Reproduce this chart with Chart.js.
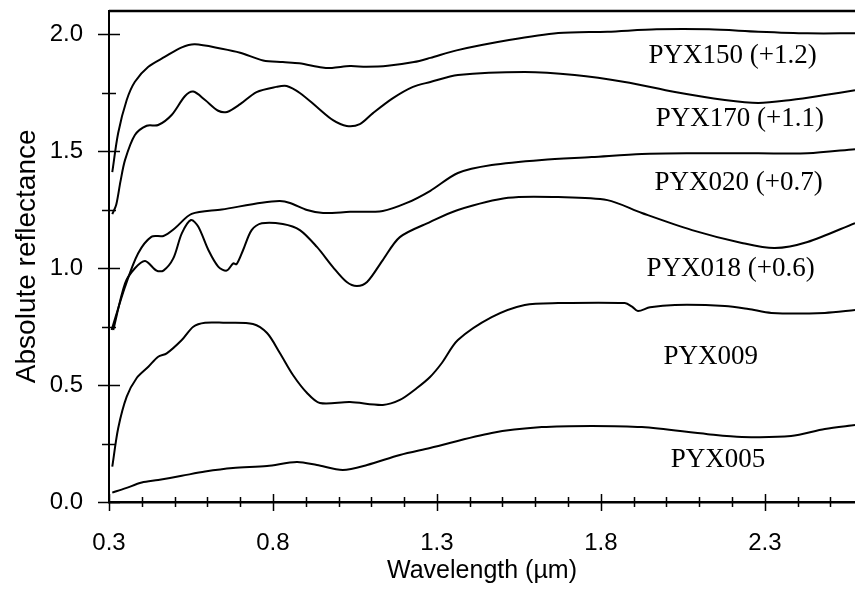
<!DOCTYPE html>
<html>
<head>
<meta charset="utf-8">
<title>Pyroxene reflectance spectra</title>
<script src="https://cdn.jsdelivr.net/npm/chart.js@4"></script>
<style>
  html, body { margin: 0; padding: 0; background: #fff; }
  #chart-wrap { width: 855px; height: 589px; }
</style>
</head>
<body>
<div id="chart-wrap"><canvas id="spectra-chart" width="855" height="589"></canvas></div>
<script>
// Spectra (wavelength in µm, absolute reflectance incl. offset)
const pyx150Wl = [0.31, 0.328, 0.354, 0.379, 0.42, 0.471, 0.522, 0.562, 0.644, 0.70, 0.77, 0.83, 0.88, 0.95, 0.98, 1.035, 1.085, 1.15, 1.23, 1.28, 1.36, 1.52, 1.67, 1.82, 1.97, 2.13, 2.28, 2.43, 2.575];
const pyx150R = [1.41, 1.577, 1.718, 1.796, 1.86, 1.903, 1.943, 1.956, 1.937, 1.92, 1.887, 1.88, 1.875, 1.857, 1.855, 1.863, 1.86, 1.864, 1.88, 1.898, 1.93, 1.974, 2.004, 2.01, 2.02, 2.02, 2.01, 2.003, 2.003];

const pyx170Wl = [0.31, 0.322, 0.335, 0.349, 0.379, 0.415, 0.45, 0.491, 0.532, 0.557, 0.593, 0.633, 0.66, 0.70, 0.75, 0.81, 0.842, 0.882, 0.934, 0.983, 1.025, 1.065, 1.105, 1.166, 1.227, 1.28, 1.364, 1.568, 1.72, 1.873, 2.026, 2.178, 2.28, 2.38, 2.483, 2.575];
const pyx170R = [1.23, 1.27, 1.37, 1.462, 1.568, 1.608, 1.611, 1.654, 1.735, 1.754, 1.718, 1.672, 1.667, 1.70, 1.752, 1.774, 1.778, 1.748, 1.688, 1.632, 1.607, 1.615, 1.662, 1.726, 1.774, 1.795, 1.825, 1.838, 1.825, 1.795, 1.752, 1.718, 1.705, 1.718, 1.739, 1.76];

const pyx020Wl = [0.308, 0.349, 0.389, 0.43, 0.466, 0.501, 0.552, 0.644, 0.766, 0.821, 0.852, 0.904, 0.953, 1.035, 1.135, 1.208, 1.28, 1.364, 1.467, 1.62, 1.772, 1.925, 2.078, 2.28, 2.43, 2.575];
const pyx020R = [0.735, 0.92, 1.063, 1.134, 1.137, 1.17, 1.231, 1.25, 1.279, 1.286, 1.278, 1.248, 1.235, 1.24, 1.244, 1.278, 1.33, 1.406, 1.44, 1.462, 1.474, 1.487, 1.49, 1.49, 1.49, 1.508];

const pyx018Wl = [0.313, 0.349, 0.379, 0.41, 0.445, 0.466, 0.496, 0.522, 0.55, 0.572, 0.603, 0.633, 0.659, 0.679, 0.689, 0.709, 0.735, 0.766, 0.83, 0.882, 0.934, 0.983, 1.025, 1.056, 1.087, 1.135, 1.187, 1.28, 1.364, 1.517, 1.67, 1.82, 1.925, 2.078, 2.23, 2.33, 2.43, 2.575];
const pyx018R = [0.735, 0.935, 0.999, 1.03, 0.989, 0.989, 1.041, 1.148, 1.205, 1.177, 1.077, 1.006, 0.989, 1.02, 1.016, 1.077, 1.162, 1.191, 1.188, 1.162, 1.09, 1.004, 0.94, 0.923, 0.94, 1.034, 1.132, 1.197, 1.248, 1.30, 1.303, 1.29, 1.235, 1.162, 1.107, 1.085, 1.111, 1.192];

const pyx009Wl = [0.31, 0.328, 0.354, 0.384, 0.42, 0.45, 0.476, 0.522, 0.557, 0.593, 0.648, 0.739, 0.782, 0.821, 0.861, 0.904, 0.943, 1.035, 1.135, 1.187, 1.239, 1.279, 1.315, 1.364, 1.467, 1.568, 1.67, 1.873, 1.895, 1.913, 1.95, 2.026, 2.178, 2.25, 2.32, 2.483, 2.575];
const pyx009R = [0.151, 0.315, 0.45, 0.529, 0.578, 0.621, 0.635, 0.692, 0.749, 0.766, 0.766, 0.761, 0.722, 0.637, 0.543, 0.466, 0.423, 0.427, 0.415, 0.436, 0.487, 0.534, 0.594, 0.692, 0.79, 0.842, 0.85, 0.85, 0.835, 0.816, 0.832, 0.842, 0.838, 0.825, 0.808, 0.808, 0.82];

const pyx005Wl = [0.31, 0.349, 0.4, 0.45, 0.522, 0.593, 0.678, 0.782, 0.873, 0.934, 1.013, 1.087, 1.187, 1.279, 1.467, 1.62, 1.772, 1.925, 2.126, 2.23, 2.38, 2.483, 2.575];
const pyx005R = [0.04, 0.058, 0.083, 0.094, 0.112, 0.13, 0.145, 0.154, 0.171, 0.158, 0.137, 0.158, 0.201, 0.231, 0.295, 0.32, 0.325, 0.32, 0.29, 0.278, 0.282, 0.312, 0.329];

// Curve labels and where they sit (data units)
const labelNames = ['PYX150 (+1.2)', 'PYX170 (+1.1)', 'PYX020 (+0.7)', 'PYX018 (+0.6)', 'PYX009', 'PYX005'];
const labelX = [2.202, 2.224, 2.22, 2.196, 2.135, 2.157];
const labelY = [1.906, 1.637, 1.365, 0.996, 0.62, 0.179];

// Axis ticks
const xMajorTicks = [0.3, 0.8, 1.3, 1.8, 2.3];
const xMinorTicks = [0.4, 0.5, 0.6, 0.7, 0.9, 1.0, 1.1, 1.2, 1.4, 1.5, 1.6, 1.7, 1.9, 2.0, 2.1, 2.2, 2.4, 2.5];
const yMajorTicks = [0, 0.5, 1.0, 1.5, 2.0];
const yMinorTicks = [0.25, 0.75, 1.25, 1.75];

const SANS = "'Liberation Sans', Arial, sans-serif";
const SERIF = "'Liberation Serif', 'Times New Roman', serif";

const toPoints = (wl, r) => wl.map((x, i) => ({ x, y: r[i] }));

const seriesList = [
  [pyx150Wl, pyx150R],
  [pyx170Wl, pyx170R],
  [pyx020Wl, pyx020R],
  [pyx018Wl, pyx018R],
  [pyx009Wl, pyx009R],
  [pyx005Wl, pyx005R]
];

/**
 * Tick marks crossing the axes, plus the frame line on top
 */
const axisDecor = {
  id: 'axisDecor',
  afterDraw(chart) {
    const { ctx, chartArea, scales } = chart;
    const xs = scales.x;
    const ys = scales.y;
    ctx.save();
    ctx.strokeStyle = '#000';
    ctx.lineWidth = 1.5;
    ctx.beginPath();
    xMajorTicks.forEach(v => {
      const px = Math.round(xs.getPixelForValue(v)) + 0.5;
      ctx.moveTo(px, chartArea.bottom - 8);
      ctx.lineTo(px, chartArea.bottom + 9);
    });
    xMinorTicks.forEach(v => {
      const px = Math.round(xs.getPixelForValue(v)) + 0.5;
      ctx.moveTo(px, chartArea.bottom - 5);
      ctx.lineTo(px, chartArea.bottom + 5);
    });
    yMajorTicks.forEach(v => {
      const py = Math.round(ys.getPixelForValue(v)) + 0.5;
      ctx.moveTo(chartArea.left - 11, py);
      ctx.lineTo(chartArea.left + 11, py);
    });
    yMinorTicks.forEach(v => {
      const py = Math.round(ys.getPixelForValue(v)) + 0.5;
      ctx.moveTo(chartArea.left - 7, py);
      ctx.lineTo(chartArea.left + 7, py);
    });
    ctx.stroke();

    // top frame line
    ctx.lineWidth = 2.5;
    ctx.beginPath();
    ctx.moveTo(chartArea.left, chartArea.top + 0.5);
    ctx.lineTo(chartArea.right, chartArea.top + 0.5);
    ctx.stroke();
    ctx.restore();
  }
};

/**
 * Sample names written next to each spectrum
 */
const curveLabels = {
  id: 'curveLabels',
  afterDatasetsDraw(chart) {
    const { ctx, scales } = chart;
    ctx.save();
    ctx.fillStyle = '#000';
    ctx.font = '27px ' + SERIF;
    ctx.textAlign = 'center';
    ctx.textBaseline = 'middle';
    labelNames.forEach((name, i) => {
      ctx.fillText(name, scales.x.getPixelForValue(labelX[i]), scales.y.getPixelForValue(labelY[i]));
    });
    ctx.restore();
  }
};

const ctx = document.getElementById('spectra-chart');
const chart = new Chart(ctx, {
  type: 'line',
  data: {
    datasets: seriesList.map(([wl, r], i) => ({
      label: labelNames[i],
      data: toPoints(wl, r),
      borderColor: '#000',
      borderWidth: 2,
      pointRadius: 0,
      fill: false,
      tension: 0.3
    }))
  },
  options: {
    responsive: false,
    animation: false,
    devicePixelRatio: 1,
    layout: { padding: { top: 10.6, left: 0, right: 0, bottom: 0 } },
    plugins: {
      legend: { display: false },
      tooltip: { enabled: false }
    },
    scales: {
      x: {
        type: 'linear',
        min: 0.3,
        max: 2.575,
        afterBuildTicks: scale => { scale.ticks = xMajorTicks.map(v => ({ value: v })); },
        afterFit: scale => {
          scale.height = 87;
          scale.paddingLeft = 0;
          scale.paddingRight = 0;
        },
        grid: { display: false, drawTicks: false },
        border: { display: true, color: '#000', width: 2.5 },
        ticks: {
          color: '#000',
          font: { family: SANS, size: 24 },
          padding: 27,
          maxRotation: 0,
          autoSkip: false,
          callback: v => v.toFixed(1)
        },
        title: {
          display: true,
          text: 'Wavelength (µm)',
          color: '#000',
          font: { family: SANS, size: 25 },
          padding: { top: 0, bottom: 3 }
        }
      },
      y: {
        type: 'linear',
        min: 0,
        max: 2.1,
        afterBuildTicks: scale => { scale.ticks = yMajorTicks.map(v => ({ value: v })); },
        afterFit: scale => {
          scale.width = 109;
          scale.paddingTop = 0;
          scale.paddingBottom = 0;
        },
        grid: { display: false, drawTicks: false },
        border: { display: true, color: '#000', width: 2 },
        ticks: {
          color: '#000',
          font: { family: SANS, size: 24 },
          padding: 26,
          autoSkip: false,
          callback: v => v.toFixed(1)
        },
        title: {
          display: true,
          text: 'Absolute reflectance',
          color: '#000',
          font: { family: SANS, size: 28 },
          padding: { top: 10, bottom: 0 }
        }
      }
    }
  },
  plugins: [curveLabels, axisDecor]
});
</script>
</body>
</html>
